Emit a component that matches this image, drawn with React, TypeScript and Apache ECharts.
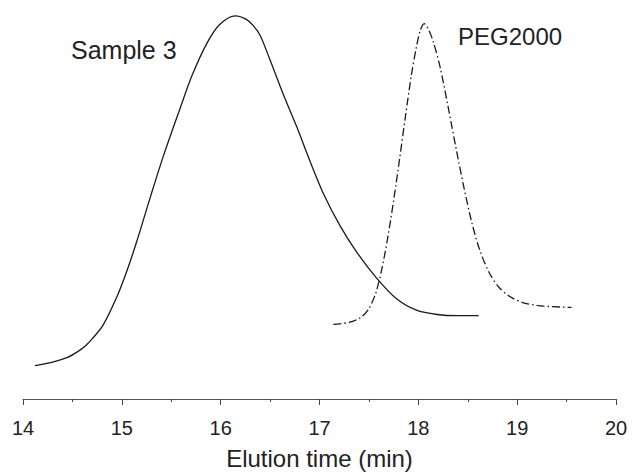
import React, { useEffect, useRef } from "react";
import * as echarts from "echarts";

const sampleTime = [14.12, 14.30, 14.45, 14.55, 14.63, 14.70, 14.81, 14.95, 15.05, 15.15, 15.29, 15.42, 15.59, 15.71, 15.86, 15.99, 16.15, 16.26, 16.33, 16.40, 16.50, 16.63, 16.77, 16.90, 17.04, 17.21, 17.38, 17.58, 17.78, 17.98, 18.19, 18.40, 18.61];
const sampleSignal = [8.5, 9.4, 10.6, 12.0, 13.5, 15.3, 18.8, 26, 32.5, 40, 51.5, 61.8, 74, 82.3, 90.5, 95.3, 97.5, 96.6, 95, 92.5, 86.25, 77.75, 69.25, 60.75, 52.25, 44, 37.25, 30.7, 25.5, 22.6, 21.5, 21.2, 21.2];

const pegTime = [17.14, 17.30, 17.42, 17.50, 17.57, 17.63, 17.69, 17.75, 17.81, 17.87, 17.93, 17.98, 18.02, 18.06, 18.10, 18.15, 18.22, 18.30, 18.38, 18.46, 18.54, 18.62, 18.72, 18.82, 18.93, 19.05, 19.20, 19.35, 19.55];
const pegSignal = [19, 19.5, 20.8, 23, 27, 33, 41, 50.5, 61, 72, 82.5, 89.5, 93.8, 95.5, 94.2, 91, 84.5, 74.5, 64, 54, 45, 38, 32, 28.3, 26, 24.6, 23.8, 23.5, 23.3];

const xTicks = [14, 15, 16, 17, 18, 19, 20];
const seriesNames = ["Sample 3", "PEG2000"];
const axisTitle = "Elution time (min)";

const FONT = "'Liberation Sans', Arial, Helvetica, sans-serif";

export default function App() {
  const ref = useRef<HTMLDivElement>(null);
  useEffect(() => {
    if (!ref.current) return;
    const chart = echarts.init(ref.current, undefined, { renderer: "svg" });
    const zip = (xs: number[], ys: number[]) => xs.map((x, i) => [x, ys[i]]);
    chart.setOption({
      animation: false,
      backgroundColor: "#fff",
      grid: { left: 23, right: 16, top: 6, bottom: 69 },
      xAxis: {
        type: "value",
        min: xTicks[0],
        max: xTicks[xTicks.length - 1],
        interval: 1,
        name: axisTitle,
        nameLocation: "middle",
        nameGap: 47,
        nameTextStyle: { fontFamily: FONT, fontSize: 24, color: "#222" },
        axisLine: { show: true, lineStyle: { color: "#555", width: 1 } },
        axisTick: { show: true, length: 6, lineStyle: { color: "#444" } },
        minorTick: { show: true, splitNumber: 2, length: 3, lineStyle: { color: "#444" } },
        splitLine: { show: false },
        axisLabel: { fontFamily: FONT, fontSize: 20, color: "#222", margin: 19 },
      },
      yAxis: { type: "value", min: 0, max: 100, show: false },
      series: [
        {
          name: seriesNames[0],
          type: "line",
          data: zip(sampleTime, sampleSignal),
          smooth: 0.3,
          showSymbol: false,
          lineStyle: { color: "#1a1a1a", width: 1.3 },
        },
        {
          name: seriesNames[1],
          type: "line",
          data: zip(pegTime, pegSignal),
          smooth: 0.3,
          showSymbol: false,
          lineStyle: { color: "#1a1a1a", width: 1.3, type: [8, 3, 1.5, 3] },
        },
      ],
      graphic: [
        {
          type: "text",
          left: 71,
          top: 37,
          style: { text: seriesNames[0], fontFamily: FONT, fontSize: 25, fill: "#222" },
        },
        {
          type: "text",
          left: 458,
          top: 24,
          style: { text: seriesNames[1], fontFamily: FONT, fontSize: 24, fill: "#222" },
        },
      ],
    });
    return () => chart.dispose();
  }, []);
  return <div ref={ref} style={{ width: 632, height: 475, position: "absolute", left: 0, top: 0 }} />;
}
